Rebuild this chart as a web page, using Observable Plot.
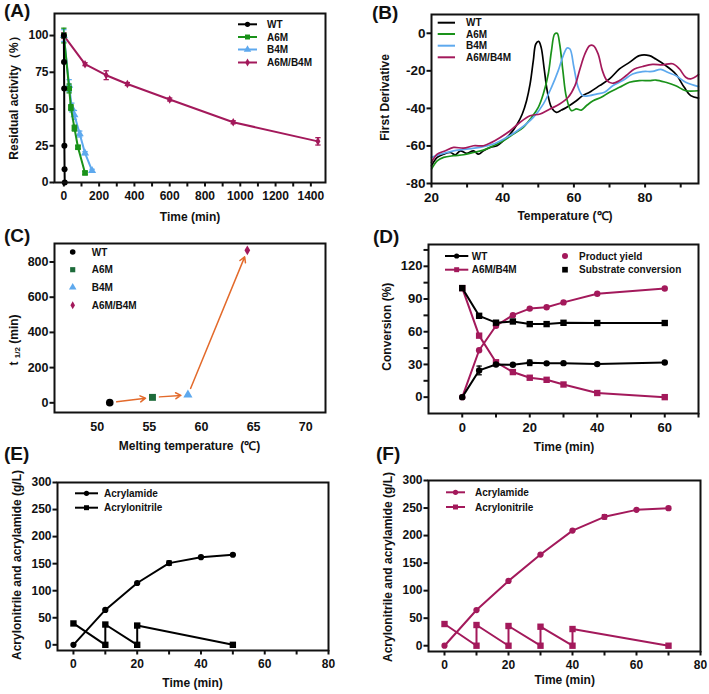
<!DOCTYPE html>
<html><head><meta charset="utf-8">
<script src="https://cdn.jsdelivr.net/npm/d3@7"></script>
<script src="https://cdn.jsdelivr.net/npm/@observablehq/plot@0.6"></script>
<style>
body{margin:0;background:#fff;}
#fig{position:relative;width:709px;height:694px;overflow:hidden;background:#fff;}
.pl{position:absolute;}
</style></head><body><div id="fig"></div>
<script>
const FONT = "'Liberation Sans', Arial, Helvetica, sans-serif";
const INK = "#111";
const COL = {wt:"#000000", a6m:"#1a921a", b4m:"#5ea9ee", ab:"#a3195b", a6mDark:"#1d6b3a", arrow:"#e36a2b"};

// ---------- Panel A: residual activity ----------
const aWtTime = [0, 1, 2, 3, 4, 5];
const aWtAct  = [100, 82, 64, 25, 9, 0];
const aA6mTime = [0, 30, 40, 60, 80, 120];
const aA6mAct  = [100, 64, 51, 37, 24, 6.5];
const aA6mErr  = [5, 3, 2, 2, 1, 1];
const aB4mTime = [0, 30, 45, 60, 90, 120, 160];
const aB4mAct  = [100, 66, 51, 46, 33, 20, 8];
const aB4mErr  = [4, 4, 3, 3, 2, 1, 1];
const aAbTime = [0, 120, 240, 360, 600, 960, 1440];
const aAbAct  = [100, 80.5, 73, 67, 56.5, 41, 28];
const aAbErr  = [2, 1, 3, 1, 1, 1, 2.5];

// ---------- Panel B: first derivative ----------
const bTempWT = [20,21.6,23.4,25.3,26.7,28.1,29.9,31.8,33.2,34.6,36.5,38.4,40.2,42.1,44.1,45.5,46.7,47.7,48.6,49.3,50.1,50.8,51.6,52.5,53.7,55.1,56.5,57.9,60.7,62.5,64.4,67.2,70,72.8,75.6,78.4,81.2,83,85.8,88.6,91,92.8,95];
const bValWT  = [-70.6,-66.1,-64.4,-63.5,-64.7,-62.6,-64,-62.6,-64.4,-62.6,-60.8,-59.9,-57.2,-53.7,-48.3,-43,-35.9,-27,-14.6,-5.7,-4.3,-7.5,-18.1,-30.6,-39.5,-42.1,-40.9,-39.5,-35.9,-33.2,-31.4,-27.9,-24.3,-19,-15.5,-11.9,-11.9,-13.7,-17.2,-21.7,-28.8,-33.2,-34.5];
const bTempA6M = [20,21.6,23.4,26.2,29,31.8,34.6,37.4,40.2,43,45.8,48.1,50,51.4,52.8,53.7,54.6,55.3,56,56.9,57.9,59.3,60.7,62.1,63.5,65.4,67.7,70,72.8,75.6,78.4,81.2,83,85.8,88.6,91.4,95];
const bValA6M  = [-72.3,-67.9,-66.1,-65.2,-64.7,-63.5,-62.2,-59.9,-57.2,-53.7,-50.1,-44.8,-39.5,-32.4,-21.7,-9.3,-0.4,0,-5.7,-19.9,-34.1,-41.2,-40.3,-40.9,-38.6,-35.9,-34.1,-31.4,-28.8,-26.1,-25.2,-25.2,-24.9,-26.1,-27.9,-30.6,-30.6];
const bTempB4M = [20,22.5,26.2,29.9,33.6,37.4,41.1,44.8,48.6,51.4,53.7,55.6,57,58.1,58.9,60,61.2,62.5,64.4,66.3,68.6,70.9,73.7,76.5,79.3,82.1,84.4,86.3,88.6,91.4,95];
const bValB4M  = [-66.1,-64.4,-62.6,-61.7,-60.8,-59,-55.5,-51,-44.8,-37.7,-28.8,-19.9,-11.9,-7.8,-8.4,-18.1,-28.8,-33.2,-33.2,-32.4,-31.4,-27.9,-25.2,-21.7,-20.4,-20.3,-19.2,-20.8,-22.5,-26.1,-28.4];
const bTempAB = [20,21.6,23.9,26.2,29,31.8,34.6,36.9,39.3,42.1,44.8,47.7,50.5,53.3,56,58.4,60.3,61.7,63.1,64.4,65.5,66.8,68,69.3,70.8,72.8,74.7,77,79.3,82.1,84.9,87.7,89.6,91.4,92.8,95];
const bValAB  = [-68.8,-64.4,-62.6,-60.8,-61.2,-59.9,-59.9,-58.1,-55.5,-51.9,-47.5,-43.9,-43,-40.3,-37.7,-34.1,-27.9,-19,-11,-6.6,-6.6,-11,-19.9,-25.2,-26.6,-25.2,-22.5,-19,-17.7,-16.6,-16.8,-16.2,-18.9,-23.4,-24.3,-22];

// ---------- Panel C: t1/2 vs Tm ----------
const cVariants = ["WT", "A6M", "B4M", "A6M/B4M"];
const cTm   = [51.2, 55.3, 58.7, 64.4];
const cHalf = [1, 31, 45, 866];

// ---------- Panel D: conversion ----------
const dTime      = [0, 5, 10, 15, 20, 25, 30, 40, 60];
const dWtYield   = [0, 24.5, 30, 29.7, 31.5, 31, 31.2, 30.3, 31.8];
const dWtYieldErr= [0, 4, 1, 0.5, 2.5, 0.5, 0.5, 1, 0.5];
const dWtConv    = [100, 74.6, 68.3, 69.4, 67, 67, 68.2, 68, 68];
const dAbYield   = [0, 43, 65.5, 75.2, 81.2, 82.4, 86.9, 94.8, 99.7];
const dAbConv    = [100, 56.4, 32, 23, 17.8, 15.9, 11.6, 3.8, 0];

// ---------- Panel E: WT fed-batch ----------
const eAmTime = [0, 10, 20, 30, 40, 50];
const eAm     = [0, 64.5, 114.3, 151, 162, 166.5];
const eAmErr  = [0, 1, 1, 4, 1, 1];
const eAnTime = [0, 10, 10, 20, 20, 50];
const eAn     = [39.5, 0, 37.5, 0, 35.6, 0];

// ---------- Panel F: A6M/B4M fed-batch ----------
const fAmTime = [0, 10, 20, 30, 40, 50, 60, 70];
const fAm     = [0, 64.8, 117.6, 165.5, 209, 234, 246.7, 249.7];
const fAmErr  = [0, 1, 1, 1, 1, 4, 1, 3];
const fAnTime = [0, 10, 10, 20, 20, 30, 30, 40, 40, 70];
const fAn     = [39.4, 0, 37.6, 0, 35.8, 0, 34.5, 0, 30.3, 0];

// ---------- helpers ----------
const rows = (xs, ys, es) => xs.map((x, i) => ({x, y: ys[i], e: es ? es[i] : 0}));
const CAP = {draw(ctx, size) { const w = Math.sqrt(size) / 2; ctx.moveTo(-w, 0); ctx.lineTo(w, 0); }};
const fmt = d => String(d);

function series(data, color, symbol, r, sw = 2, curve = "linear") {
  return [
    Plot.line(data, {x: "x", y: "y", stroke: color, strokeWidth: sw, curve}),
    symbol ? Plot.dot(data, {x: "x", y: "y", symbol, r, fill: color, stroke: "none"}) : null
  ];
}
function errs(data, color, capR = 3) {
  const d = data.filter(p => p.e > 0);
  return [
    Plot.ruleX(d, {x: "x", y1: p => p.y - p.e, y2: p => p.y + p.e, stroke: color, strokeWidth: 1.3}),
    Plot.dot(d, {x: "x", y: p => p.y + p.e, symbol: CAP, r: capR, stroke: color, fill: "none", strokeWidth: 1.3}),
    Plot.dot(d, {x: "x", y: p => p.y - p.e, symbol: CAP, r: capR, stroke: color, fill: "none", strokeWidth: 1.3})
  ];
}

const fig = document.getElementById("fig");

function panel(o) {
  const ax = [
    Plot.axisX({ticks: o.xt, tickSize: o.xts ?? 4.5, tickPadding: o.xtp ?? 4.5, strokeWidth: 2, stroke: INK, fill: INK, tickFormat: fmt, label: null}),
    o.xm ? Plot.axisX({ticks: o.xm, tickSize: 4.5, strokeWidth: 2, stroke: INK, tickFormat: () => "", label: null}) : null,
    Plot.axisY({ticks: o.yt, tickSize: 4.5, tickPadding: 1.5, strokeWidth: 2, stroke: INK, fill: INK, tickFormat: fmt, label: null}),
    o.ym ? Plot.axisY({ticks: o.ym, tickSize: 4.5, strokeWidth: 2, stroke: INK, tickFormat: () => "", label: null}) : null
  ];
  const p = Plot.plot({
    width: o.w, height: o.h,
    marginLeft: o.ml, marginRight: o.mr, marginTop: o.mt, marginBottom: o.mb,
    x: {domain: o.xd, label: null},
    y: {domain: o.yd, label: null},
    style: {fontFamily: FONT, fontSize: (o.fs ?? 12.5) + "px", fontWeight: "bold", color: INK, background: "transparent", overflow: "visible"},
    marks: [...ax, ...o.marks, Plot.frame({stroke: INK, strokeWidth: 2})]
  });
  const div = document.createElement("div");
  div.className = "pl";
  div.style.left = o.left + "px";
  div.style.top = o.top + "px";
  div.appendChild(p);
  fig.appendChild(div);
  return d3.select(p);
}

function txt(svg, s, x, y, o = {}) {
  const t = svg.append("text").attr("x", x).attr("y", y)
    .attr("font-family", FONT).attr("font-size", o.size ?? 12).attr("font-weight", "bold")
    .attr("fill", o.fill ?? INK).attr("text-anchor", o.anchor ?? "middle");
  if (o.rotate) t.attr("transform", `rotate(-90 ${x} ${y})`).attr("dominant-baseline", "central");
  else if (o.central) t.attr("dominant-baseline", "central");
  if (s != null) t.text(s);
  return t;
}
const SYM = {circle: d3.symbolCircle, square: d3.symbolSquare, triangle: d3.symbolTriangle, diamond: d3.symbolDiamond};
function legendItem(svg, {x1, x2, mx, y, color, symbol, r, label, tx, size = 10, line = true}) {
  if (line) svg.append("line").attr("x1", x1).attr("x2", x2).attr("y1", y).attr("y2", y).attr("stroke", color).attr("stroke-width", 2);
  if (symbol) svg.append("path").attr("d", d3.symbol(SYM[symbol], Math.PI * r * r)()).attr("transform", `translate(${mx ?? (x1 + x2) / 2},${y})`).attr("fill", color);
  txt(svg, label, tx, y, {size, anchor: "start", central: true});
}

// ---------- A ----------
{
  const wt = rows(aWtTime, aWtAct), a6 = rows(aA6mTime, aA6mAct, aA6mErr), b4 = rows(aB4mTime, aB4mAct, aB4mErr), ab = rows(aAbTime, aAbAct, aAbErr);
  const svg = panel({
    left: 0, top: 0, w: 355, h: 230, ml: 54, mr: 30, mt: 13, mb: 48, fs: 12,
    xd: [-53, 1483], yd: [0, 115],
    xt: d3.range(0, 1401, 200), xm: d3.range(100, 1400, 200), yt: [0, 25, 50, 75, 100],
    marks: [
      ...errs(ab, COL.ab), ...series(ab, COL.ab, "diamond", 2.6),
      ...errs(b4, COL.b4m), ...series(b4, COL.b4m, "triangle", 3),
      ...errs(a6, COL.a6m), ...series(a6, COL.a6m, "square", 3.2),
      ...series(wt, COL.wt, "circle", 3)
    ]
  });
  txt(svg, "Residual activity（%）", 13.5, 95, {rotate: true});
  txt(svg, "Time (min)", 190, 221);
  const L = [["WT", COL.wt, "circle", 2.6], ["A6M", COL.a6m, "square", 2.8], ["B4M", COL.b4m, "triangle", 2.8], ["A6M/B4M", COL.ab, "diamond", 2.4]];
  [24.3, 37, 49.5, 62.5].forEach((y, i) => legendItem(svg, {x1: 238, x2: 257, y, color: L[i][1], symbol: L[i][2], r: L[i][3], label: L[i][0], tx: 267}));
}

// ---------- B ----------
{
  const wt = rows(bTempWT, bValWT), a6 = rows(bTempA6M, bValA6M), b4 = rows(bTempB4M, bValB4M), ab = rows(bTempAB, bValAB);
  const svg = panel({
    left: 355, top: 0, w: 354, h: 230, ml: 76, mr: 11, mt: 14, mb: 47, fs: 13.5,
    xd: [20, 95], yd: [-80, 10],
    xt: [20, 40, 60, 80], xm: [30, 50, 70, 90], yt: [-80, -60, -40, -20, 0],
    marks: [
      ...series(wt, COL.wt, null, 0, 1.7, "catmull-rom"),
      ...series(a6, COL.a6m, null, 0, 1.7, "catmull-rom"),
      ...series(b4, COL.b4m, null, 0, 1.7, "catmull-rom"),
      ...series(ab, COL.ab, null, 0, 1.7, "catmull-rom")
    ]
  });
  txt(svg, "First Derivative", 30, 97.5, {rotate: true});
  txt(svg, "Temperature (℃)", 210, 220);
  const L = [["WT", COL.wt], ["A6M", COL.a6m], ["B4M", COL.b4m], ["A6M/B4M", COL.ab]];
  [22.7, 34, 45.7, 57.3].forEach((y, i) => legendItem(svg, {x1: 82.7, x2: 100, y, color: L[i][1], label: L[i][0], tx: 111}));
}

// ---------- C ----------
{
  const pts = cVariants.map((v, i) => ({v, x: cTm[i], y: cHalf[i]}));
  const arrows = pts.slice(1).map((p, i) => ({x1: pts[i].x, y1: pts[i].y, x2: p.x, y2: p.y}));
  const colors = [COL.wt, COL.a6mDark, COL.b4m, COL.ab];
  const syms = ["circle", "square", "triangle", "diamond"];
  const svg = panel({
    left: 0, top: 230, w: 355, h: 230, ml: 54, mr: 30, mt: 13, mb: 48, fs: 12.5,
    xd: [45.9, 71.9], yd: [-55, 905],
    xt: [50, 55, 60, 65, 70], xts: 0, xtp: 9.5, yt: [0, 200, 400, 600, 800],
    marks: [
      Plot.arrow(arrows, {x1: "x1", y1: "y1", x2: "x2", y2: "y2", stroke: COL.arrow, strokeWidth: 1.5, headLength: 6, insetStart: 7, insetEnd: 7}),
      ...pts.map((p, i) => Plot.dot([p], {x: "x", y: "y", symbol: syms[i], r: [3.8, 3.9, 3.4, 3][i], fill: colors[i], stroke: "none"}))
    ]
  });
  const t = txt(svg, null, 14, 110, {rotate: true});
  t.append("tspan").text("t ");
  t.append("tspan").attr("font-size", 8).attr("dy", 3).text("1/2");
  t.append("tspan").attr("dy", -3).text(" (min)");
  txt(svg, "Melting temperature  (℃)", 189.5, 220);
  [22, 39.7, 57.3, 75.3].forEach((y, i) => legendItem(svg, {mx: 72.7, y, color: colors[i], symbol: syms[i], r: [2.8, 2.9, 2.8, 2.4][i], label: cVariants[i], tx: 91.7, line: false}));
}

// ---------- D ----------
{
  const wy = rows(dTime, dWtYield, dWtYieldErr), wc = rows(dTime, dWtConv), ay = rows(dTime, dAbYield), ac = rows(dTime, dAbConv);
  const svg = panel({
    left: 355, top: 230, w: 354, h: 230, ml: 73, mr: 11, mt: 14, mb: 47, fs: 13,
    xd: [-10, 70], yd: [-15, 140],
    xt: [0, 20, 40, 60], xm: [10, 30, 50, 70], yt: [0, 30, 60, 90, 120], ym: [15, 45, 75, 105, 135],
    marks: [
      ...series(ac, COL.ab, "square", 3.6),
      ...series(ay, COL.ab, "circle", 3.2),
      ...errs(wy, COL.wt), ...series(wy, COL.wt, "circle", 3.2),
      ...series(wc, COL.wt, "square", 3.6)
    ]
  });
  txt(svg, "Conversion (%)", 32.5, 96.7, {rotate: true});
  txt(svg, "Time (min)", 209, 220.7);
  legendItem(svg, {x1: 90, x2: 113.3, y: 26, color: COL.wt, symbol: "circle", r: 2.6, label: "WT", tx: 116.7});
  legendItem(svg, {x1: 90, x2: 113.3, y: 39.7, color: COL.ab, symbol: "square", r: 2.8, label: "A6M/B4M", tx: 116.7});
  legendItem(svg, {mx: 210, y: 26, color: COL.ab, symbol: "circle", r: 3, label: "Product yield", tx: 224, line: false});
  legendItem(svg, {mx: 210, y: 39.7, color: COL.wt, symbol: "square", r: 3.2, label: "Substrate conversion", tx: 224, line: false});
}

// ---------- E ----------
{
  const am = rows(eAmTime, eAm, eAmErr), an = rows(eAnTime, eAn);
  const svg = panel({
    left: 0, top: 460, w: 355, h: 234, ml: 57, mr: 27, mt: 22, mb: 44, fs: 12,
    xd: [-5, 80], yd: [-10.5, 300],
    xt: [0, 20, 40, 60, 80], xm: [10, 30, 50, 70], yt: [0, 50, 100, 150, 200, 250, 300],
    marks: [
      ...series(an, COL.wt, "square", 3.6),
      ...errs(am, COL.wt), ...series(am, COL.wt, "circle", 3.1)
    ]
  });
  txt(svg, "Acrylonitrile and acrylamide (g/L)", 17, 105, {rotate: true});
  txt(svg, "Time (min)", 192.5, 227);
  legendItem(svg, {x1: 75, x2: 98, y: 33.3, color: COL.wt, symbol: "circle", r: 2.6, label: "Acrylamide", tx: 104});
  legendItem(svg, {x1: 75, x2: 98, y: 47.7, color: COL.wt, symbol: "square", r: 2.8, label: "Acrylonitrile", tx: 104});
}

// ---------- F ----------
{
  const am = rows(fAmTime, fAm, fAmErr), an = rows(fAnTime, fAn);
  const svg = panel({
    left: 355, top: 460, w: 354, h: 234, ml: 73, mr: 9, mt: 20, mb: 43, fs: 12,
    xd: [-5, 80], yd: [-10.5, 300],
    xt: [0, 20, 40, 60, 80], xm: [10, 30, 50, 70], yt: [0, 50, 100, 150, 200, 250, 300],
    marks: [
      ...series(an, COL.ab, "square", 3.6),
      ...errs(am, COL.ab), ...series(am, COL.ab, "circle", 3.1)
    ]
  });
  txt(svg, "Acrylonitrile and acrylamide (g/L)", 32.5, 107, {rotate: true});
  txt(svg, "Time (min)", 209.7, 224);
  legendItem(svg, {x1: 91, x2: 110, y: 32.3, color: COL.ab, symbol: "circle", r: 2.6, label: "Acrylamide", tx: 120});
  legendItem(svg, {x1: 91, x2: 110, y: 47, color: COL.ab, symbol: "square", r: 2.8, label: "Acrylonitrile", tx: 120});
}

// ---------- panel letters ----------
{
  const ov = d3.select(fig).append("svg").attr("width", 709).attr("height", 694)
    .style("position", "absolute").style("left", 0).style("top", 0).style("pointer-events", "none");
  [["(A)", 4, 17], ["(B)", 372, 19], ["(C)", 4, 242], ["(D)", 373, 243], ["(E)", 4, 460], ["(F)", 376, 460]]
    .forEach(([s, x, y]) => txt(ov, s, x, y, {size: 19, anchor: "start"}));
}
</script></body></html>
